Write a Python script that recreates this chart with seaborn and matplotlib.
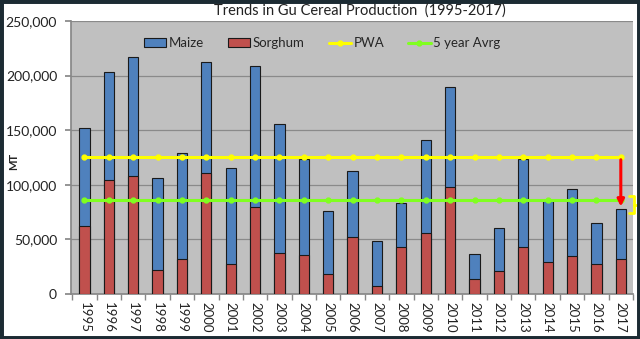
import matplotlib
matplotlib.use("Agg")
import matplotlib.pyplot as plt
import seaborn as sns
import pandas as pd
import numpy as np

years = [str(y) for y in range(1995, 2018)]
sorghum = [62300, 104000, 107700, 21700, 31700, 110500, 27500, 79700, 37200, 35700,
           18600, 52500, 7600, 42700, 55600, 98000, 13400, 21000, 42700, 29000,
           34500, 27500, 32300]
totals = [152000, 203000, 217000, 106500, 128800, 212000, 115000, 209000, 156000, 124000,
          76000, 112600, 48800, 83000, 141000, 189800, 36600, 60100, 123600, 85200,
          96400, 64700, 77500]
maize = [t - s for t, s in zip(totals, sorghum)]
pwa_value = 125500
avg5_value = 86300

df = pd.DataFrame({"Year": years, "Maize": maize, "Sorghum": sorghum})
df["Total"] = df["Maize"] + df["Sorghum"]

sns.set_theme(style="white")
plt.rcParams["font.family"] = ["Lato", "DejaVu Sans"]

fig = plt.figure(figsize=(6.4, 3.39), dpi=100)
fig.patch.set_facecolor("white")
ax = fig.add_axes([71/640, 1-294/339, (633-71)/640, (294-21)/339])
ax.set_facecolor("#C0C0C0")

blue = "#4F81BD"
red = "#C0504D"
sns.barplot(data=df, x="Year", y="Total", color=blue, width=0.42, saturation=1,
            edgecolor="#1a1a1a", linewidth=0.8, ax=ax, label="Maize", zorder=2)
sns.barplot(data=df, x="Year", y="Sorghum", color=red, width=0.42, saturation=1,
            edgecolor="#1a1a1a", linewidth=0.8, ax=ax, label="Sorghum", zorder=3)

n = len(years)
xs = np.arange(n)
ax.plot(xs, [pwa_value]*n, color="#FFFF00", lw=2.2, marker="o", ms=3.5, label="PWA", zorder=4)
ax.plot(xs, [avg5_value]*n, color="#80FF20", lw=2.2, marker="o", ms=3.5, label="5 year Avrg", zorder=4)

last_total = df["Total"].iloc[-1]
# red arrow from PWA to 2017 production
ax.annotate("", xy=(n-1, last_total), xytext=(n-1, pwa_value),
            arrowprops=dict(arrowstyle="-|>", color="#FF0000", lw=2.2, mutation_scale=10),
            zorder=6)
# yellow bracket between 5-year average and 2017 production
bx0, bx1, bx2 = n-1+0.33, n-1+0.55, n-1+0.75
ymid = (avg5_value + last_total) / 2
ax.plot([bx0, bx1, bx1, bx0], [avg5_value + 3500, avg5_value + 3500, last_total - 3500, last_total - 3500],
        color="#FFFF00", lw=2, clip_on=False, zorder=6, solid_joinstyle="round")
ax.plot([bx1, bx2], [ymid, ymid], color="#FFFF00", lw=2, clip_on=False, zorder=6)

ax.set_ylim(0, 250000)
ax.set_xlim(-0.55, n-0.5)
ax.set_yticks(range(0, 250001, 50000))
ax.set_yticklabels([f"{v:,}" for v in range(0, 250001, 50000)], fontsize=10, color="#222222")
ax.yaxis.grid(True, color="#8A8A8A", lw=0.9)
ax.set_axisbelow(True)
ax.tick_params(axis="y", length=4, color="#888888", pad=6, left=True)
ax.set_xticks(xs)
ax.set_xticklabels(years, rotation=-90, fontsize=9.5, color="#222222")
ax.tick_params(axis="x", length=0, pad=6)
ax.set_xticks(np.arange(-0.5, n, 1), minor=True)
ax.tick_params(axis="x", which="minor", length=4, color="#888888", bottom=True)
ax.set_xlabel("")
ax.set_ylabel("MT", fontsize=8, fontweight="bold")
ax.yaxis.set_label_coords(-(71-19)/562, 0.487)
for s in ["top", "right"]:
    ax.spines[s].set_visible(False)
ax.spines["left"].set_color("#888888")
ax.spines["bottom"].set_color("#888888")

handles, labels = ax.get_legend_handles_labels()
order = ["Maize", "Sorghum", "PWA", "5 year Avrg"]
hmap = dict(zip(labels, handles))
ax.legend([hmap[k] for k in order], order, loc="upper center", bbox_to_anchor=(0.447, 0.985),
          ncol=4, frameon=False, fontsize=9.5, handlelength=1.7, handleheight=0.6,
          columnspacing=1.8, handletextpad=0.2)

fig.text(360/640, 1-11/339, "Trends in Gu Cereal Production  (1995-2017)", ha="center",
         va="center", fontsize=10.5, color="#222222")

# dark frame
fig.patches.append(plt.Rectangle((0, 0), 1, 1, transform=fig.transFigure, fill=False,
                                 edgecolor="#1c2b33", lw=5))

fig.savefig("out.png", dpi=100)
